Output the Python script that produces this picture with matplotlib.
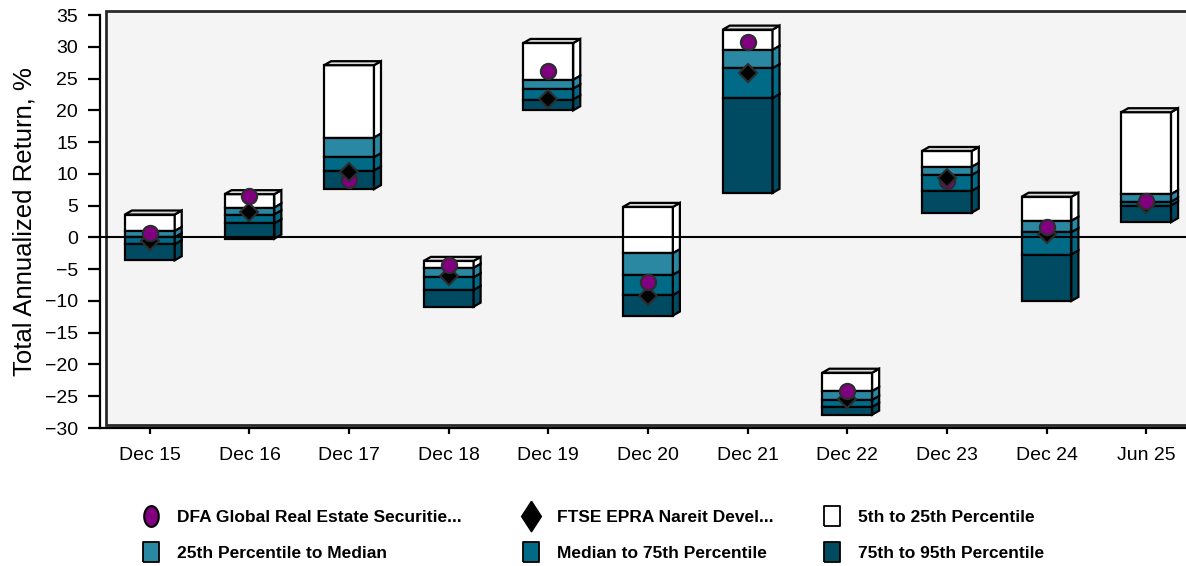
import matplotlib
matplotlib.use("Agg")
import matplotlib.pyplot as plt
from matplotlib.patches import Polygon, Rectangle
from matplotlib.lines import Line2D
import numpy as np

plt.rcParams['font.family'] = ['Liberation Sans', 'DejaVu Sans']

# periods and percentile boundaries (5th, 25th, median, 75th, 95th), % return
periods = ['Dec 15', 'Dec 16', 'Dec 17', 'Dec 18', 'Dec 19', 'Dec 20',
           'Dec 21', 'Dec 22', 'Dec 23', 'Dec 24', 'Jun 25']
p05 = [3.6, 6.8, 27.1, -3.7, 30.6, 4.8, 32.7, -21.3, 13.6, 6.4, 19.7]
p25 = [1.0, 4.7, 15.7, -4.8, 24.8, -2.5, 29.5, -24.2, 11.1, 2.6, 6.8]
p50 = [0.0, 3.6, 12.6, -6.3, 23.4, -5.9, 26.6, -25.6, 9.8, 0.8, 5.6]
p75 = [-1.1, 2.2, 10.5, -8.3, 21.7, -9.1, 21.9, -26.7, 7.3, -2.7, 5.0]
p95 = [-3.6, -0.2, 7.6, -10.9, 20.0, -12.3, 7.0, -27.9, 3.9, -10.0, 2.4]

fund = [0.7, 6.5, 9.1, -4.3, 26.2, -7.0, 30.7, -24.1, 8.9, 1.6, 5.8]
bench = [-0.6, 4.0, 10.3, -6.0, 21.8, -9.3, 25.9, -25.5, 9.3, 0.5, 5.2]

fund_name = 'DFA Global Real Estate Securitie...'
bench_name = 'FTSE EPRA Nareit Devel...'
band_names = ['5th to 25th Percentile', '25th Percentile to Median',
              'Median to 75th Percentile', '75th to 95th Percentile']
band_colors = ['#ffffff', '#2a88a3', '#006a87', '#014b62']

fig = plt.figure(figsize=(11.86, 5.66), dpi=100)
W, H = 1186, 566
ax = fig.add_axes([100 / W, 1 - 428 / H, 1.0 - 100 / W, (428 - 15) / H])
ax.patch.set_alpha(0)

# back wall
wall = Rectangle((106 / W, 1 - 425 / H), 1.0, (425 - 11) / H, transform=fig.transFigure,
                 facecolor='#f4f4f4', edgecolor='#2a2a2a', lw=2, zorder=-5)
fig.patches.append(wall)

ax.set_ylim(-30, 35)
ax.set_xlim(-0.5, 10.4)
ax.set_yticks(np.arange(-30, 36, 5))
ax.set_xticks(range(len(periods)))
ax.set_xticklabels(periods)
for s in ['top', 'right']:
    ax.spines[s].set_visible(False)
for s in ['left', 'bottom']:
    ax.spines[s].set_linewidth(1.6)
    ax.spines[s].set_color('black')
ax.tick_params(axis='y', length=9, width=1.6, pad=7, labelsize=14)
ax.tick_params(axis='x', length=4, width=1.6, pad=10, labelsize=14)
ax.set_ylabel('Total Annualized Return, %', fontsize=18.5, labelpad=6)

w = 0.25
dx = 7 / 99.6
dy = 4 / 6.34
bounds = np.array([p05, p25, p50, p75, p95])
for i in range(len(periods)):
    for k in range(4):
        hi, lo = bounds[k, i], bounds[k + 1, i]
        c = band_colors[k]
        ax.add_patch(Polygon([(i - w, lo), (i + w, lo), (i + w, hi), (i - w, hi)],
                             closed=True, fc=c, ec='black', lw=1.6, zorder=2))
        ax.add_patch(Polygon([(i + w, lo), (i + w + dx, lo + dy), (i + w + dx, hi + dy), (i + w, hi)],
                             closed=True, fc=c, ec='black', lw=1.6, zorder=2))
    top = bounds[0, i]
    ax.add_patch(Polygon([(i - w, top), (i - w + dx, top + dy), (i + w + dx, top + dy), (i + w, top)],
                         closed=True, fc='#d8d8d8', ec='black', lw=1.6, zorder=2))

ax.axhline(0, color='black', lw=1.5, zorder=3)

for i in range(len(periods)):
    zf = 5 if fund[i] >= bench[i] else 4
    ax.plot(i, fund[i], 'o', ms=11, mfc='#800080', mec='#2d2d2d', mew=1.5, zorder=zf)
    ax.plot(i, bench[i], 'D', ms=9, mfc='black', mec='#2d2d2d', mew=1.5, zorder=9 - zf)

# legend marker shapes (tall ellipse, tall diamond, tall box), closed outlines
t = np.linspace(0, 2 * np.pi, 41)
ellipse = list(zip(0.7 * np.cos(t), np.sin(t)))
tall_diamond = [(0, 1), (0.65, 0), (0, -1), (-0.65, 0), (0, 1)]
tall_box = [(-0.8, -1), (0.8, -1), (0.8, 1), (-0.8, 1), (-0.8, -1)]

def swatch(c):
    return Line2D([], [], ls='', marker=tall_box, ms=14.5, mfc=c, mec='black', mew=1.3)

columns = [
    ([Line2D([], [], ls='', marker=ellipse, ms=15, mfc='#800080', mec='black', mew=1.5),
      swatch(band_colors[1])], [fund_name, band_names[1]], 142),
    ([Line2D([], [], ls='', marker=tall_diamond, ms=22, mfc='black', mec='black'),
      swatch(band_colors[2])], [bench_name, band_names[2]], 522),
    ([swatch(band_colors[0]), swatch(band_colors[3])], [band_names[0], band_names[3]], 823),
]
for hs, ls, x0 in columns:
    fig.legend(hs, ls, loc='upper left', bbox_to_anchor=(x0 / W, 1 - 510 / H),
               frameon=False, borderpad=0, borderaxespad=0, handlelength=1.0,
               handletextpad=1.0, labelspacing=1.2, prop={'weight': 'bold', 'size': 12.5})

fig.savefig('out.png', dpi=100)
